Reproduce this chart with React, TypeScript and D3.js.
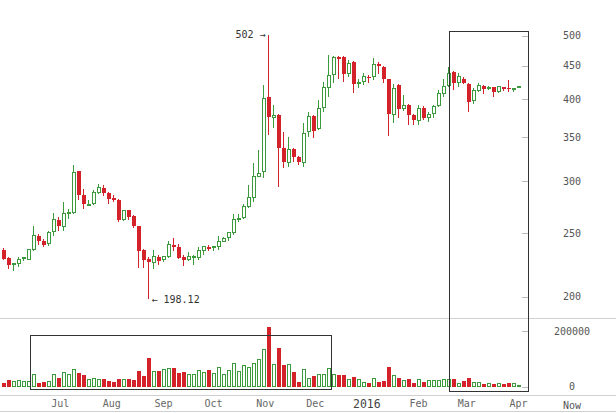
import React from 'react';
import * as d3 from 'd3';

// 3-day candles starting 2015-05-28
const START_DATE = '2015-05-28';
const opens = [236, 228.9, 223.9, 224.8, 228.6, 228.3, 235.8, 247.9, 243.6, 240.7,
  251.1, 262.0, 255.9, 267.8, 269.0, 310.4, 285.4, 275.7, 277.2, 288.7,
  293.2, 287.7, 283.1, 281.1, 262.0, 270.7, 265.3, 255.9, 235.8, 228.3,
  225.7, 229.7, 227.6, 230.3, 239.7, 238.5, 229.7, 228.1, 229.6, 229.2,
  235.2, 238.5, 237.7, 238.5, 243.0, 245.9, 250.3, 262.5, 264.5, 274.6,
  283.7, 305.4, 310.6, 403.3, 375.3, 378.2, 337.5, 320.8, 335.5, 326.6,
  320.8, 357.5, 377.3, 361.6, 388.0, 416.4, 436.4, 463.6, 464.4, 438.0,
  456.3, 422.6, 426.3, 432.6, 432.8, 452.1, 448.3, 429.0, 378.8, 419.8,
  386.9, 391.7, 378.2, 371.6, 388.0, 375.1, 380.4, 390.8, 408.3, 419.3,
  439.6, 424.0, 429.0, 421.8, 398.7, 413.0, 418.8, 415.5, 416.9, 411.6,
  417.5, 416.4, 414.5, 416.4];
const highs = [237, 229.7, 225.1, 229.7, 230.0, 236.6, 256.5, 249.4, 244.7, 251.7,
  268.1, 265.0, 278.7, 272.3, 317.1, 311.0, 292.2, 281.1, 290.4, 296.6,
  295.6, 288.7, 285.4, 281.4, 271.4, 271.4, 266.0, 256.0, 236.6, 230.3,
  235.8, 231.9, 231.1, 243.0, 246.0, 240.7, 231.9, 233.8, 231.9, 238.5,
  239.3, 240.2, 239.3, 247.9, 246.5, 251.4, 267.6, 267.6, 277.2, 295.6,
  319.6, 334.3, 420.3, 502, 391.7, 380.4, 357.0, 350.0, 337.5, 327.3,
  368.1, 382.6, 378.2, 398.7, 424.9, 467.1, 465.9, 465.4, 465.4, 459.0,
  457.4, 430.2, 438.0, 435.4, 462.6, 456.3, 449.9, 430.2, 421.4, 421.4,
  405.8, 394.0, 379.5, 391.7, 390.3, 382.6, 391.7, 413.0, 428.9, 447.9,
  441.6, 438.0, 432.8, 422.8, 415.5, 422.8, 420.3, 419.3, 417.9, 419.3,
  417.9, 427.8, 416.0, 418.8];
const lows = [227.8, 220.5, 219.2, 221.8, 227.0, 227.8, 234.6, 239.9, 237.9, 238.7,
  247.1, 252.3, 252.3, 263.0, 267.6, 281.1, 272.3, 274.8, 275.5, 287.1,
  284.4, 276.5, 278.7, 259.8, 260.7, 262.0, 254.7, 221.3, 221.3, 198.12,
  220.5, 223.9, 225.7, 229.2, 234.6, 228.3, 223.1, 227.0, 223.9, 227.6,
  231.9, 234.6, 234.9, 235.8, 242.2, 243.0, 248.8, 259.8, 263.0, 273.3,
  278.7, 304.4, 303.7, 352.5, 361.0, 293.9, 314.6, 315.2, 321.4, 317.1,
  315.2, 350.4, 349.2, 358.7, 382.6, 403.3, 422.8, 430.2, 424.9, 432.8,
  408.3, 416.4, 420.3, 424.0, 427.8, 436.4, 424.0, 351.9, 368.6, 374.3,
  383.5, 365.1, 365.1, 365.1, 371.6, 369.4, 373.9, 389.4, 403.3, 417.9,
  413.0, 417.9, 421.4, 382.6, 394.0, 410.6, 406.8, 413.0, 403.3, 408.3,
  412.0, 410.6, 409.7, 416.4];
const closes = [228.6, 223.9, 224.6, 228.3, 229.4, 236.0, 247.6, 243.6, 240.2, 250.8,
  262.0, 255.9, 267.6, 268.8, 309.7, 285.4, 277.2, 276.6, 288.7, 293.2,
  287.7, 282.1, 280.4, 262.0, 270.7, 265.0, 255.9, 235.2, 227.6, 225.7,
  230.3, 227.0, 230.3, 240.2, 238.6, 229.2, 227.6, 230.3, 230.5, 235.2,
  238.5, 236.8, 238.5, 243.0, 245.6, 250.3, 262.3, 263.4, 274.6, 283.7,
  305.4, 308.6, 401.5, 375.5, 377.2, 337.5, 320.8, 335.5, 326.6, 320.8,
  355.3, 376.9, 357.5, 387.2, 416.4, 435.4, 463.6, 460.8, 436.4, 454.2,
  421.4, 424.7, 432.8, 430.7, 452.6, 449.4, 430.2, 379.5, 415.5, 387.2,
  391.7, 378.2, 371.6, 387.2, 375.1, 379.5, 390.3, 408.3, 418.8, 438.0,
  424.1, 432.8, 424.1, 395.5, 413.0, 420.3, 414.0, 416.9, 410.6, 417.9,
  416.4, 415.5, 415.5, 418.1];
const volumes = [13000, 24000, 18000, 20000, 18000, 18000, 44000, 14000, 18000, 18000,
  42000, 32000, 50000, 42000, 62000, 50000, 42000, 24000, 30000, 27000,
  27000, 20000, 18000, 26000, 27000, 27000, 24000, 56000, 39000, 102000,
  53000, 56000, 60000, 66000, 66000, 50000, 53000, 44000, 44000, 59000,
  50000, 59000, 48000, 69000, 44000, 56000, 84000, 53000, 77000, 69000,
  84000, 98000, 134000, 215000, 78000, 140000, 78000, 78000, 53000, 18000,
  60000, 30000, 38000, 42000, 44000, 66000, 42000, 42000, 42000, 24000,
  36000, 24000, 14000, 14000, 30000, 18000, 21000, 72000, 38000, 30000,
  21000, 27000, 14000, 24000, 18000, 21000, 21000, 21000, 24000, 26000,
  26000, 10000, 21000, 30000, 15000, 15000, 10000, 10000, 10000, 12000,
  8000, 12000, 10000, 2500];

const priceTicks = [500, 450, 400, 350, 300, 250, 200];
const volumeTicks = [200000, 0];
const monthTickDates = ['2015-07-01', '2015-08-01', '2015-09-01', '2015-10-01', '2015-11-01', '2015-12-01', '2016-01-01', '2016-02-01', '2016-03-01', '2016-04-01'];
const monthTickLabels = ['Jul', 'Aug', 'Sep', 'Oct', 'Nov', 'Dec', '2016', 'Feb', 'Mar', 'Apr'];
const highAnnot = { value: 502, label: '502 →' };
const lowAnnot = { value: 198.12, label: '← 198.12' };

const GREEN = '#3b9a3b';
const RED = '#d3222a';
const FONT = '"DejaVu Sans Mono", monospace';

export default function App() {
  const W = 616, H = 413;
  const start = new Date(START_DATE + 'T00:00:00Z');
  const dates = opens.map((_, i) => d3.utcDay.offset(start, i * 3));
  const x = d3.scaleUtc().domain([dates[0], dates[dates.length - 1]]).range([3.5, 518.5]);
  const y = d3.scaleLog().domain([200, 500]).range([296.7, 35.7]);
  const v = d3.scaleLinear().domain([0, 200000]).range([386.5, 331]);

  const hiIdx = highs.indexOf(d3.max(highs) as number);
  const loIdx = lows.indexOf(d3.min(lows) as number);

  return (
    <svg width={W} height={H} style={{ position: 'absolute', left: 0, top: 0, background: '#fff' }}
      fontFamily={FONT}>
      <rect x={0} y={0} width={W} height={H} fill="#fff" />
      {/* separators */}
      {[318.5, 395.5, 411.5].map((yy, i) => (
        <line key={i} x1={0} x2={W} y1={yy} y2={yy} stroke="#d0d0d0" strokeWidth={1} />
      ))}

      {/* volume bars */}
      <g shapeRendering="crispEdges">
        {volumes.map((vol, i) => {
          const cx = x(dates[i]);
          const up = closes[i] >= opens[i];
          const top = v(vol);
          const h = Math.max(1, v(0) - top);
          return up ? (
            <rect key={i} x={cx - 1.5} y={top} width={3} height={h} fill="#fff" stroke={GREEN} strokeWidth={1} />
          ) : (
            <rect key={i} x={cx - 2} y={top} width={4} height={h} fill={RED} />
          );
        })}
      </g>

      {/* candles */}
      <g shapeRendering="crispEdges">
        {opens.map((o, i) => {
          const cx = x(dates[i]);
          const c = closes[i];
          const up = c >= o;
          const col = up ? GREEN : RED;
          const yTop = y(Math.max(o, c));
          const yBot = y(Math.min(o, c));
          return (
            <g key={i}>
              <line x1={cx} x2={cx} y1={y(highs[i])} y2={y(lows[i])} stroke={col} strokeWidth={1} />
              {up ? (
                <rect x={cx - 1.5} y={yTop} width={3} height={Math.max(1, yBot - yTop)} fill="#fff" stroke={col} strokeWidth={1} />
              ) : (
                <rect x={cx - 2} y={yTop} width={4} height={Math.max(1.5, yBot - yTop)} fill={col} />
              )}
            </g>
          );
        })}
      </g>

      {/* highlight rectangles */}
      <g fill="none" stroke="#333" strokeWidth={1} shapeRendering="crispEdges">
        <rect x={30.5} y={335.5} width={301} height={54} />
        <rect x={449.5} y={31.5} width={79} height={360} />
      </g>

      {/* annotations */}
      <text x={x(dates[hiIdx]) - 3} y={y(highAnnot.value)} dy="0.35em" textAnchor="end" fontSize={10} fill="#333">{highAnnot.label}</text>
      <text x={x(dates[loIdx]) + 3} y={y(lowAnnot.value)} dy="0.35em" textAnchor="start" fontSize={10} fill="#333">{lowAnnot.label}</text>

      {/* right price axis */}
      {priceTicks.map((t) => (
        <g key={t}>
          <line x1={522} x2={528} y1={Math.round(y(t)) + 0.5} y2={Math.round(y(t)) + 0.5} stroke="#bbb" />
          <text x={572} y={y(t)} dy="0.35em" textAnchor="middle" fontSize={10} fill="#555">{t}</text>
        </g>
      ))}
      {volumeTicks.map((t) => (
        <g key={t}>
          <line x1={522} x2={528} y1={Math.round(v(t)) + 0.5} y2={Math.round(v(t)) + 0.5} stroke="#bbb" />
          <text x={572} y={v(t)} dy="0.35em" textAnchor="middle" fontSize={10} fill="#555">{t}</text>
        </g>
      ))}

      {/* time axis labels */}
      {monthTickDates.map((d, i) => {
        const isYear = monthTickLabels[i].length === 4;
        return (
          <text key={d} x={x(new Date(d + 'T00:00:00Z'))} y={isYear ? 404 : 403.5} dy="0.35em" textAnchor="middle"
            fontSize={isYear ? 11.5 : 10} fill={isYear ? '#444' : '#666'}>{monthTickLabels[i]}</text>
        );
      })}
      <text x={572} y={405} dy="0.35em" textAnchor="middle" fontSize={10} fill="#555">Now</text>
    </svg>
  );
}
